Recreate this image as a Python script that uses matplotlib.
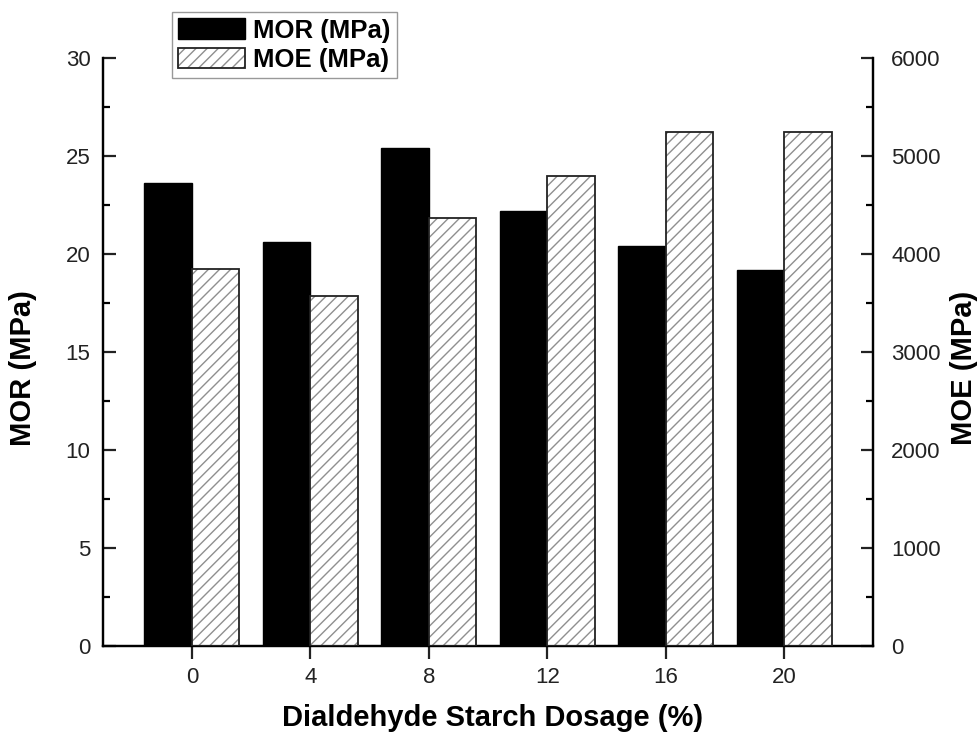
import matplotlib
matplotlib.use("Agg")
import matplotlib.pyplot as plt
from matplotlib.patches import Patch
from matplotlib.ticker import MultipleLocator
import numpy as np

plt.rcParams['font.family'] = ['Liberation Sans', 'DejaVu Sans']

dosage = [0, 4, 8, 12, 16, 20]
mor = [23.6, 20.6, 25.4, 22.2, 20.4, 19.2]
moe = [3850, 3570, 4370, 4800, 5250, 5240]

x = np.array(dosage, dtype=float)
bw = 1.6

fig = plt.figure(figsize=(9.77, 7.34), dpi=100)
ax = fig.add_axes([103/977, 1-646/734, 770/977, 588/734])
ax2 = ax.twinx()

ax.bar(x - bw/2, mor, width=bw, color='black', edgecolor='black', linewidth=1.0, zorder=2)
ax2.bar(x + bw/2, moe, width=bw, color='white', edgecolor='#8f8f8f', hatch='///', linewidth=0, zorder=2)
ax2.bar(x + bw/2, moe, width=bw, fill=False, edgecolor='#222222', linewidth=1.3, zorder=3)

ax.set_xlim(-3, 23)
ax.set_ylim(0, 30)
ax2.set_ylim(0, 6000)
ax.set_xticks(dosage)
ax.set_xticklabels([str(d) for d in dosage])
ax.yaxis.set_major_locator(MultipleLocator(5))
ax.yaxis.set_minor_locator(MultipleLocator(2.5))
ax2.yaxis.set_major_locator(MultipleLocator(1000))
ax2.yaxis.set_minor_locator(MultipleLocator(500))

for a in (ax, ax2):
    a.spines['top'].set_visible(False)
    for s in a.spines.values():
        s.set_linewidth(1.6)

ax.tick_params(axis='y', which='major', direction='in', length=9, width=1.6, labelsize=16, pad=9, colors='#222222')
ax.tick_params(axis='y', which='minor', direction='in', length=5, width=1.6)
ax.tick_params(axis='x', which='major', direction='out', length=9, width=1.6, labelsize=16, pad=6, colors='#222222')
ax2.tick_params(axis='y', which='major', direction='in', length=9, width=1.6, labelsize=16, pad=13, colors='#222222')
ax2.tick_params(axis='y', which='minor', direction='in', length=5, width=1.6)

ax.set_xlabel('Dialdehyde Starch Dosage (%)', fontsize=21, fontweight='bold')
ax.set_ylabel('MOR (MPa)', fontsize=21, fontweight='bold')
ax2.set_ylabel('MOE (MPa)', fontsize=21, fontweight='bold')
ax.xaxis.set_label_coords((493-103)/770, -(704-646)/588)
ax.yaxis.set_label_coords((37-103)/770, (646-368)/588)
ax2.yaxis.set_label_coords((950-103)/770, (646-368)/588)

h1 = Patch(facecolor='black', edgecolor='black')
h2 = (Patch(facecolor='white', edgecolor='#8f8f8f', hatch='///', linewidth=0),
      Patch(facecolor='none', edgecolor='#222222', linewidth=1.3))
leg = fig.legend([h1, h2], ['MOR (MPa)', 'MOE (MPa)'], loc='upper left',
                 bbox_to_anchor=(172/977, 1-12/734), prop={'size': 18.5, 'weight': 'bold'},
                 frameon=True, fancybox=False, edgecolor='#999999', framealpha=1,
                 handlelength=2.6, handleheight=0.85, handletextpad=0.3,
                 borderpad=0.25, labelspacing=0.2, borderaxespad=0)
leg.get_frame().set_linewidth(1.0)

fig.savefig('out.png', dpi=100)
